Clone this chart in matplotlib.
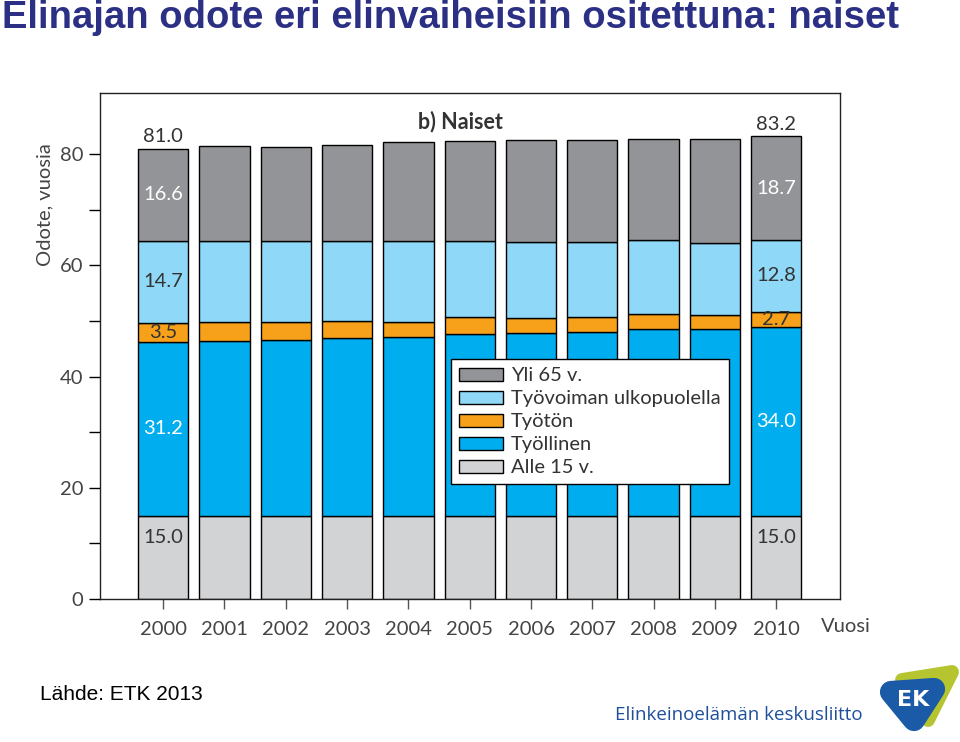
import matplotlib
matplotlib.use("Agg")
import matplotlib.pyplot as plt
import numpy as np
from matplotlib.patches import Patch, Polygon

# data (years of life expectancy by life phase, women)
years = [2000, 2001, 2002, 2003, 2004, 2005, 2006, 2007, 2008, 2009, 2010]
alle15 = [15.0, 15.0, 15.0, 15.0, 15.0, 15.0, 15.0, 15.0, 15.0, 15.0, 15.0]
tyollinen = [31.2, 31.4, 31.5, 32.0, 32.1, 32.7, 32.9, 33.0, 33.5, 33.5, 34.0]
tyoton = [3.5, 3.4, 3.4, 3.0, 2.8, 3.1, 2.7, 2.8, 2.8, 2.5, 2.7]
ulkopuolella = [14.7, 14.6, 14.5, 14.4, 14.5, 13.5, 13.6, 13.4, 13.3, 13.1, 12.8]
yli65 = [16.6, 17.0, 16.8, 17.3, 17.8, 18.0, 18.4, 18.3, 18.1, 18.7, 18.7]

series = [
    ("Alle 15 v.", alle15, "#d1d3d4", "#333333"),
    ("Työllinen", tyollinen, "#00aeef", "white"),
    ("Työtön", tyoton, "#f7a11a", "#333333"),
    ("Työvoiman ulkopuolella", ulkopuolella, "#8fd8f7", "#333333"),
    ("Yli 65 v.", yli65, "#929497", "white"),
]

CHART_FONT = ["Lato", "DejaVu Sans"]
FS = 14.5
plt.rcParams["font.family"] = ["Liberation Sans", "DejaVu Sans"]

fig = plt.figure(figsize=(9.6, 7.42), dpi=100)
ax = fig.add_axes([100 / 960, 1 - 599 / 742, 740 / 960, 506 / 742])

x = np.arange(len(years))
bottom = np.zeros(len(years))
for name, vals, color, tcol in series:
    vals = np.array(vals)
    ax.bar(x, vals, width=0.82, bottom=bottom, color=color,
           edgecolor="black", linewidth=1.0, zorder=2)
    # value labels only on first and last bar
    for i in (0, len(years) - 1):
        ypos = bottom[i] + vals[i] / 2
        if name == "Alle 15 v.":
            ypos = 11.0
        ax.text(x[i], ypos, "%.1f" % vals[i], ha="center", va="center",
                color=tcol, fontsize=FS, family=CHART_FONT, zorder=3)
    bottom = bottom + vals

for i in (0, len(years) - 1):
    ax.text(x[i], bottom[i] + 0.6, "%.1f" % bottom[i], ha="center",
            va="bottom", color="#333333", fontsize=FS, family=CHART_FONT)

ax.text(4.85, 85.8, "b) Naiset", ha="center", va="center", fontsize=15.5,
        fontweight="bold", color="#333333", family=CHART_FONT)

ax.set_xlim(-1.03, 11.04)
ax.set_ylim(0, 91)
ax.set_xticks(x)
ax.set_xticklabels([str(y) for y in years], family=CHART_FONT, fontsize=FS,
                   color="#444444")
ax.set_yticks([0, 20, 40, 60, 80])
ax.set_yticklabels(["0", "20", "40", "60", "80"], family=CHART_FONT,
                   fontsize=FS, color="#444444")
ax.set_yticks([10, 30, 50, 70], minor=True)
ax.tick_params(axis="y", which="both", length=8, width=1, pad=4)
ax.tick_params(axis="x", length=7, width=1, pad=9, color="#555555")
for s in ax.spines.values():
    s.set_linewidth(1.0)
    s.set_color("#222222")

handles = [Patch(facecolor=c, edgecolor="black", linewidth=1.0, label=n)
           for n, v, c, t in series[::-1]]
leg = ax.legend(handles=handles, loc="upper left",
                bbox_to_anchor=(0.474, 0.474), frameon=True, fancybox=False,
                framealpha=1.0, facecolor="white",
                prop={"family": CHART_FONT, "size": FS}, handlelength=2.2,
                handleheight=0.6, labelspacing=0.3, borderpad=0.4,
                handletextpad=0.4, labelcolor="#333333", borderaxespad=0)
leg.get_frame().set_edgecolor("black")
leg.get_frame().set_linewidth(1.0)
leg.set_zorder(5)

fig.text(45 / 960, 1 - 205 / 742, "Odote, vuosia", rotation=90, ha="center",
         va="center", fontsize=FS, color="#444444", family=CHART_FONT)
fig.text(846 / 960, 1 - 626 / 742, "Vuosi", ha="center", va="center",
         fontsize=FS, color="#444444", family=CHART_FONT)

fig.text(2 / 960, 1 - 18 / 742, "Elinajan odote eri elinvaiheisiin ositettuna: naiset",
         ha="left", va="center", fontsize=27.5, fontweight="bold",
         color="#2b3085", family=["Liberation Sans", "DejaVu Sans"])

fig.text(40 / 960, 1 - 694 / 742, "Lähde: ETK 2013", ha="left", va="center",
         fontsize=15, color="black")

fig.text(739 / 960, 1 - 715 / 742, "Elinkeinoelämän keskusliitto", ha="center",
         va="center", fontsize=13.5, color="#1f4f9c", family=["Open Sans", "DejaVu Sans"])

# EK logo
lax = fig.add_axes([860 / 960, 0, 100 / 960, 92 / 742])
lax.set_xlim(0, 100)
lax.set_ylim(92, 0)
lax.axis("off")
lax.add_patch(Polygon([(42, 30), (92, 22), (68, 70)], closed=True,
                      fc="#b6c52f", ec="#b6c52f", lw=10, joinstyle="round"))
lax.add_patch(Polygon([(31, 42), (74, 39), (54, 70)], closed=True,
                      fc="#1b5aa6", ec="#1b5aa6", lw=16, joinstyle="round"))
lax.text(53, 50, "EK", ha="center", va="center", color="white", fontsize=16,
         fontweight="bold", family=["DejaVu Sans"])

fig.savefig("out.png", dpi=100)
